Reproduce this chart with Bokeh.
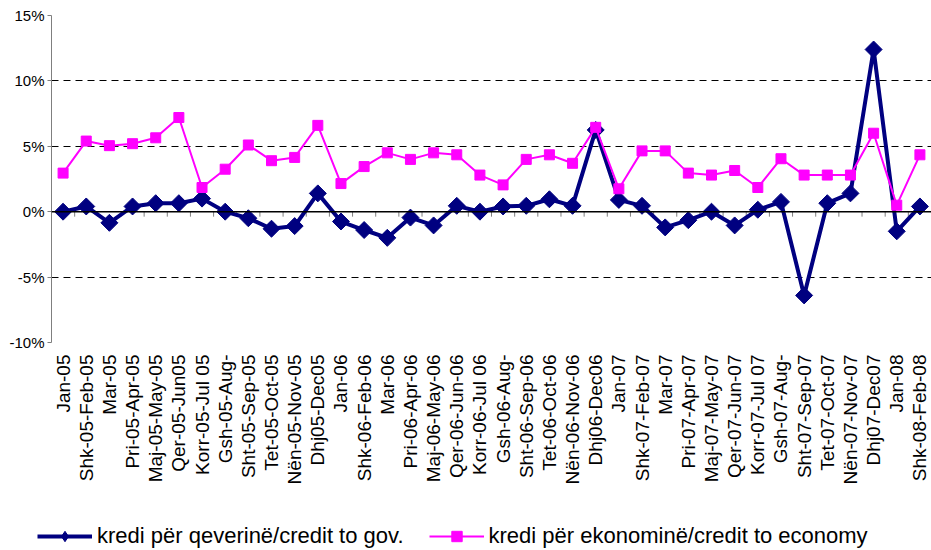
import math
from bokeh.plotting import figure
from bokeh.layouts import column
from bokeh.models import (ColumnDataSource, FactorRange, Range1d, FixedTicker,
                          PrintfTickFormatter, Span, Legend, LegendItem)
from bokeh.transform import dodge
from bokeh.embed import file_html
from bokeh.resources import INLINE

categories = [
    "Jan-05", "Shk-05-Feb-05", "Mar-05", "Pri-05-Apr-05", "Maj-05-May-05", "Qer-05-Jun05",
    "Korr-05-Jul 05", "Gsh-05-Aug-", "Sht-05-Sep-05", "Tet-05-Oct-05", "Nën-05-Nov-05", "Dhj05-Dec05",
    "Jan-06", "Shk-06-Feb-06", "Mar-06", "Pri-06-Apr-06", "Maj-06-May-06", "Qer-06-Jun-06",
    "Korr-06-Jul 06", "Gsh-06-Aug-", "Sht-06-Sep-06", "Tet-06-Oct-06", "Nën-06-Nov-06", "Dhj06-Dec06",
    "Jan-07", "Shk-07-Feb-07", "Mar-07", "Pri-07-Apr-07", "Maj-07-May-07", "Qer-07-Jun-07",
    "Korr-07-Jul 07", "Gsh-07-Aug-", "Sht-07-Sep-07", "Tet-07-Oct-07", "Nën-07-Nov-07", "Dhj07-Dec07",
    "Jan-08", "Shk-08-Feb-08",
]

credit_gov = [
    0.0, 0.4, -0.85, 0.4, 0.65, 0.65, 1.0, 0.0, -0.5, -1.3, -1.1, 1.4,
    -0.75, -1.4, -2.0, -0.45, -1.05, 0.45, 0.0, 0.4, 0.45, 0.95, 0.45, 6.25,
    0.9, 0.45, -1.2, -0.65, 0.0, -1.05, 0.15, 0.75, -6.4, 0.65, 1.4, 12.4,
    -1.5, 0.4,
]

credit_economy = [
    2.95, 5.4, 5.05, 5.2, 5.65, 7.2, 1.85, 3.25, 5.1, 3.9, 4.15, 6.6,
    2.15, 3.45, 4.5, 4.0, 4.5, 4.35, 2.8, 2.05, 4.0, 4.35, 3.7, 6.45,
    1.75, 4.65, 4.65, 2.95, 2.8, 3.15, 1.85, 4.05, 2.8, 2.8, 2.8, 6.0,
    0.5, 4.35,
]

y_ticks = [-10, -5, 0, 5, 10, 15]

label_gov = "kredi për qeverinë/credit to gov."
label_econ = "kredi për ekonominë/credit to economy"

FONT = "Liberation Sans"
NAVY = "#000080"
MAGENTA = "#FF00FF"

src = ColumnDataSource(dict(cat=categories, gov=credit_gov, econ=credit_economy))
tick_src = ColumnDataSource(dict(cat=categories[1:]))


def add_series(fig, gov_marker="square", gov_angle=math.pi / 4):
    gl = fig.line("cat", "gov", source=src, line_color=NAVY, line_width=4)
    gp = fig.scatter("cat", "gov", source=src, marker=gov_marker, angle=gov_angle,
                     size=12, fill_color=NAVY, line_color=NAVY)
    el = fig.line("cat", "econ", source=src, line_color=MAGENTA, line_width=2)
    ep = fig.scatter("cat", "econ", source=src, marker="square", size=10,
                     fill_color=MAGENTA, line_color=MAGENTA)
    return gl, gp, el, ep


p = figure(width=931, height=520, output_backend="svg", toolbar_location=None,
           x_range=FactorRange(factors=categories),
           y_range=Range1d(y_ticks[0], y_ticks[-1]),
           min_border_left=51, min_border_right=0, min_border_top=15, min_border_bottom=178)
p.frame_align = False
p.outline_line_color = None
p.background_fill_color = "white"
p.border_fill_color = "white"

# grid
p.xgrid.grid_line_color = None
p.ygrid.ticker = FixedTicker(ticks=y_ticks)
p.ygrid.grid_line_color = "black"
p.ygrid.grid_line_dash = "7 5"
p.ygrid.grid_line_width = 1

# y axis
p.yaxis.ticker = FixedTicker(ticks=y_ticks)
p.yaxis.formatter = PrintfTickFormatter(format="%d%%")
p.yaxis.axis_line_color = "#7f7f7f"
p.yaxis.major_tick_line_color = "#7f7f7f"
p.yaxis.major_tick_out = 4
p.yaxis.major_tick_in = 0
p.yaxis.minor_tick_line_color = None
p.yaxis.major_label_standoff = 3
p.yaxis.major_label_text_font = FONT
p.yaxis.major_label_text_font_size = "15px"
p.yaxis.major_label_text_color = "black"

# x axis (labels only, at the bottom)
p.xaxis.axis_line_color = None
p.xaxis.major_tick_line_color = None
p.xaxis.minor_tick_line_color = None
p.xaxis.major_label_orientation = math.pi / 2
p.xaxis.major_label_standoff = 6
p.xaxis.major_label_text_font = FONT
p.xaxis.major_label_text_font_size = "19px"
p.xaxis.major_label_text_color = "black"

# zero line with category-boundary ticks
p.add_layout(Span(location=0, dimension="width", line_color="black", line_width=1.5))
p.segment(x0=dodge("cat", -0.5, range=p.x_range), y0=0,
          x1=dodge("cat", -0.5, range=p.x_range), y1=-0.38,
          source=tick_src, line_color="#7f7f7f", line_width=1)

add_series(p)

# legend strip below the chart (same series, scrolled out of view, so only the legend shows)
lg = figure(width=931, height=30, output_backend="svg", toolbar_location=None,
            x_range=FactorRange(factors=categories), y_range=Range1d(1000, 1001),
            min_border=0)
lg.frame_align = False
lg.axis.visible = False
lg.grid.grid_line_color = None
lg.outline_line_color = None
gl, gp, el, ep = add_series(lg, gov_marker="diamond", gov_angle=0)

legend = Legend(items=[
    LegendItem(label=label_gov, renderers=[gl, gp]),
    LegendItem(label=label_econ, renderers=[el, ep]),
], location=(37, 1), orientation="horizontal")
legend.label_text_font = FONT
legend.label_text_font_size = "22px"
legend.label_text_color = "black"
legend.glyph_width = 55
legend.glyph_height = 26
legend.label_height = 24
legend.label_standoff = 5
legend.spacing = 25
legend.padding = 0
legend.margin = 0
legend.border_line_color = None
legend.background_fill_alpha = 0
lg.add_layout(legend, "center")

layout = column(p, lg, spacing=0)
open("out.html", "w").write(file_html(layout, INLINE))
